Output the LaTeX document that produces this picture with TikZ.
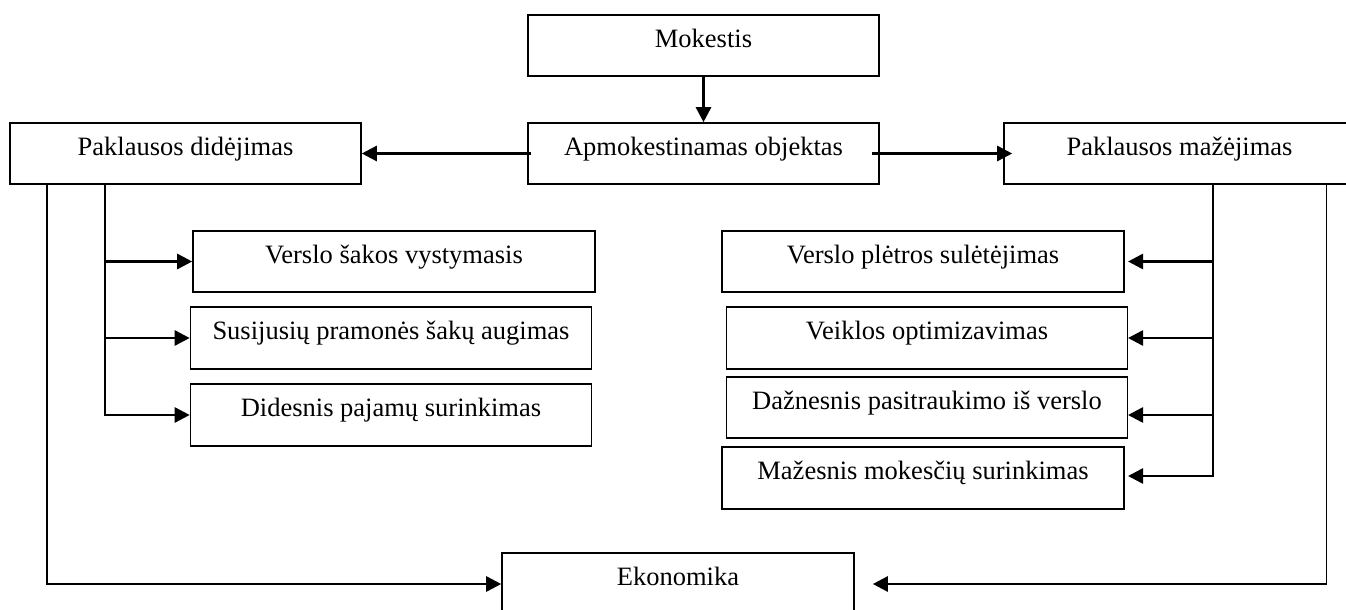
\documentclass[tikz,border=0pt]{standalone}
\usepackage{fontspec}
\setmainfont{Liberation Serif}
\usetikzlibrary{arrows.meta}
\begin{document}
\begin{tikzpicture}[x=1pt,y=-1pt,
  box/.style={draw, line width=1.6pt, inner sep=0pt, minimum height=61pt,
    text height=0.6em, text depth=0.25em,
    font=\fontsize{26.5}{30}\selectfont, align=center},
  arr/.style={line width=2.6pt, -{Triangle[length=15pt,width=15pt]}},
  trunk/.style={line width=1.7pt, line cap=rect}]
\useasboundingbox (0,0) rectangle (1346,610);
\clip (0,0) rectangle (1346,610);
% nodes
\node[box, minimum width=351pt] (mok) at (703.5,45.5) {Mokestis};
\node[box, minimum width=351pt] (apm) at (703.5,153.5) {Apmokestinamas objektas};
\node[box, minimum width=351pt] (pdid) at (185.5,153.5) {Paklausos didėjimas};
\node[box, minimum width=351pt] (pmaz) at (1179.5,153.5) {Paklausos mažėjimas};
\node[box, minimum width=402pt] (v1) at (394,261.5) {Verslo šakos vystymasis};
\node[box, minimum width=401pt, minimum height=62pt] (v2) at (391,338) {Susijusių pramonės šakų augimas};
\node[box, minimum width=401pt, minimum height=62pt] (v3) at (391,415) {Didesnis pajamų surinkimas};
\node[box, minimum width=402pt] (r1) at (923,261.5) {Verslo plėtros sulėtėjimas};
\node[box, minimum width=401pt, minimum height=62pt] (r2) at (927,338) {Veiklos optimizavimas};
\node[box, minimum width=401pt] (r3) at (927,407.5) {Dažnesnis pasitraukimo iš verslo};
\node[box, minimum width=402pt, minimum height=62pt] (r4) at (923,478) {Mažesnis mokesčių surinkimas};
\node[box, minimum width=352pt, minimum height=62pt] (ek) at (678,584) {Ekonomika};
% helper coordinates (x positions of trunks and tips)
\coordinate (dl) at (105,0);
\coordinate (dll) at (47,0);
\coordinate (rl) at (1213,0);
\coordinate (rr) at (1326.5,0);
\coordinate (rt) at (1128,0);
% top connectors
\draw[arr] (mok) -- (apm);
\draw[arr] ([xshift=4pt]apm.west) -- (pdid.east);
\draw[arr] ([xshift=-8pt]apm.east) -- ([xshift=9pt]pmaz.west);
% left branches
\draw[trunk] (pdid.south -| dl) -- (v3.west -| dl);
\draw[arr] (v1.west -| dl) -- (v1.west);
\draw[arr] (v2.west -| dl) -- (v2.west);
\draw[arr] (v3.west -| dl) -- (v3.west);
\draw[trunk] (pdid.south -| dll) -- (ek.west -| dll);
\draw[arr] (ek.west -| dll) -- (ek.west);
% right branches
\draw[trunk] (pmaz.south -| rl) -- ([yshift=2pt]r4.east -| rl);
\draw[arr] (r1.east -| rl) -- (r1.east -| rt);
\draw[arr] (r2.east -| rl) -- (r2.east -| rt);
\draw[arr] ([yshift=-7.5pt]r3.east -| rl) -- ([yshift=-7.5pt]r3.east -| rt);
\draw[arr] ([yshift=2pt]r4.east -| rl) -- ([yshift=2pt]r4.east -| rt);
\draw[trunk] (pmaz.south -| rr) -- (ek.east -| rr);
\draw[arr] (ek.east -| rr) -- ([xshift=18pt]ek.east);
\end{tikzpicture}
\end{document}
